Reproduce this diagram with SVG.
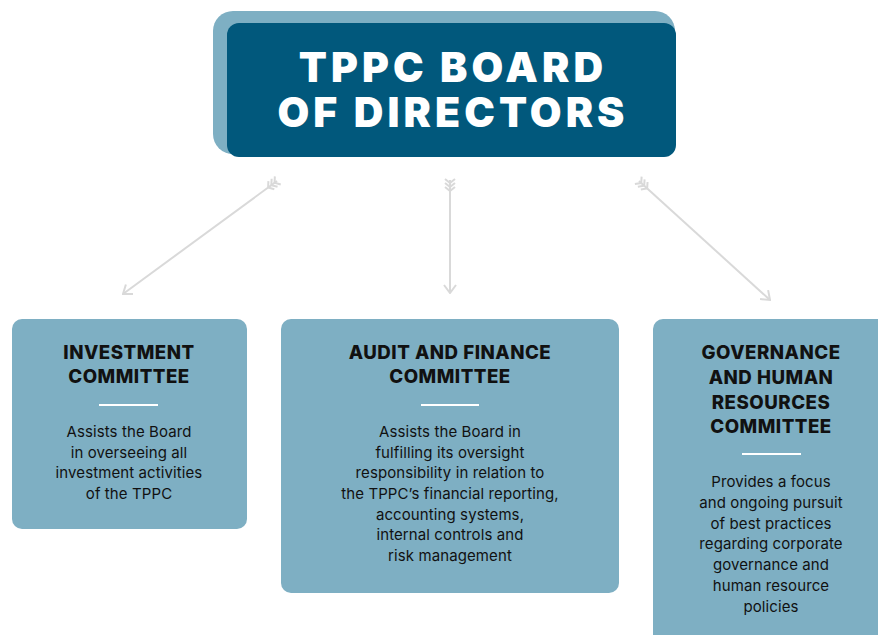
<svg xmlns="http://www.w3.org/2000/svg" width="878" height="635" viewBox="0 0 878 635">
  <style>
    .card { fill: #7eafc3; }
    .head { font-family: Inter, "Liberation Sans", sans-serif; font-weight: 800; font-size: 18.7px; fill: #111111; text-anchor: middle; letter-spacing: 0.5px; }
    .body { font-family: Inter, "Liberation Sans", sans-serif; font-weight: 400; font-size: 15px; fill: #111111; text-anchor: middle; letter-spacing: 0.1px; }
    .rule { stroke: #ffffff; stroke-width: 2; }
    .title { font-family: Inter, "Liberation Sans", sans-serif; font-weight: 900; font-size: 41px; fill: #ffffff; text-anchor: middle; letter-spacing: 4.1px; }
    .link { stroke: #d9d9d9; stroke-width: 2; fill: none; marker-start: url(#fletch); marker-end: url(#tip); }
  </style>
  <defs>
    <!-- three stacked feathers at the tail of each connector -->
    <marker id="fletch" viewBox="0 0 16 12" refX="2" refY="6" markerWidth="16" markerHeight="12" markerUnits="userSpaceOnUse" orient="auto">
      <path d="M1 1 L5 6 L1 11 M5 1 L9 6 L5 11 M9 1 L13 6 L9 11" fill="none" stroke="#d9d9d9" stroke-width="2"/>
    </marker>
    <!-- open arrowhead -->
    <marker id="tip" viewBox="0 0 12 14" refX="11" refY="7" markerWidth="12" markerHeight="14" markerUnits="userSpaceOnUse" orient="auto">
      <path d="M3 1 L11 7 L3 13" fill="none" stroke="#d9d9d9" stroke-width="2"/>
    </marker>
  </defs>

  <g id="connectors">
    <line class="link" x1="277" y1="181" x2="123" y2="294"/>
    <line class="link" x1="450" y1="180" x2="450" y2="293"/>
    <line class="link" x1="639" y1="181" x2="770" y2="300"/>
  </g>

  <g id="board">
    <rect x="213" y="11" width="462" height="143" rx="20" fill="#7eafc3"/>
    <rect x="227" y="23" width="449" height="134" rx="12" fill="#01587c"/>
    <text class="title" x="453" y="82">TPPC BOARD</text>
    <text class="title" x="453" y="127">OF DIRECTORS</text>
  </g>

  <g id="investment">
    <rect class="card" x="12" y="319" width="235" height="210" rx="10"/>
    <text class="head" x="129" y="359">INVESTMENT</text>
    <text class="head" x="129" y="383">COMMITTEE</text>
    <line class="rule" x1="99" y1="405" x2="158" y2="405"/>
    <text class="body" x="129" y="437">Assists the Board</text>
    <text class="body" x="129" y="457.5">in overseeing all</text>
    <text class="body" x="129" y="478">investment activities</text>
    <text class="body" x="129" y="498.5">of the TPPC</text>
  </g>

  <g id="audit">
    <rect class="card" x="281" y="319" width="338" height="274" rx="10"/>
    <text class="head" x="450" y="359">AUDIT AND FINANCE</text>
    <text class="head" x="450" y="383">COMMITTEE</text>
    <line class="rule" x1="421" y1="405" x2="479" y2="405"/>
    <text class="body" x="450" y="437">Assists the Board in</text>
    <text class="body" x="450" y="457.7">fulfilling its oversight</text>
    <text class="body" x="450" y="478.3">responsibility in relation to</text>
    <text class="body" x="450" y="499">the TPPC’s financial reporting,</text>
    <text class="body" x="450" y="519.7">accounting systems,</text>
    <text class="body" x="450" y="540.3">internal controls and</text>
    <text class="body" x="450" y="561">risk management</text>
  </g>

  <g id="governance">
    <rect class="card" x="653" y="319" width="245" height="330" rx="10"/>
    <text class="head" x="771" y="359">GOVERNANCE</text>
    <text class="head" x="771" y="384">AND HUMAN</text>
    <text class="head" x="771" y="408.5">RESOURCES</text>
    <text class="head" x="771" y="433">COMMITTEE</text>
    <line class="rule" x1="742" y1="454" x2="801" y2="454"/>
    <text class="body" x="771" y="487">Provides a focus</text>
    <text class="body" x="771" y="507.8">and ongoing pursuit</text>
    <text class="body" x="771" y="528.6">of best practices</text>
    <text class="body" x="771" y="549.4">regarding corporate</text>
    <text class="body" x="771" y="570.2">governance and</text>
    <text class="body" x="771" y="591">human resource</text>
    <text class="body" x="771" y="611.8">policies</text>
  </g>
</svg>
